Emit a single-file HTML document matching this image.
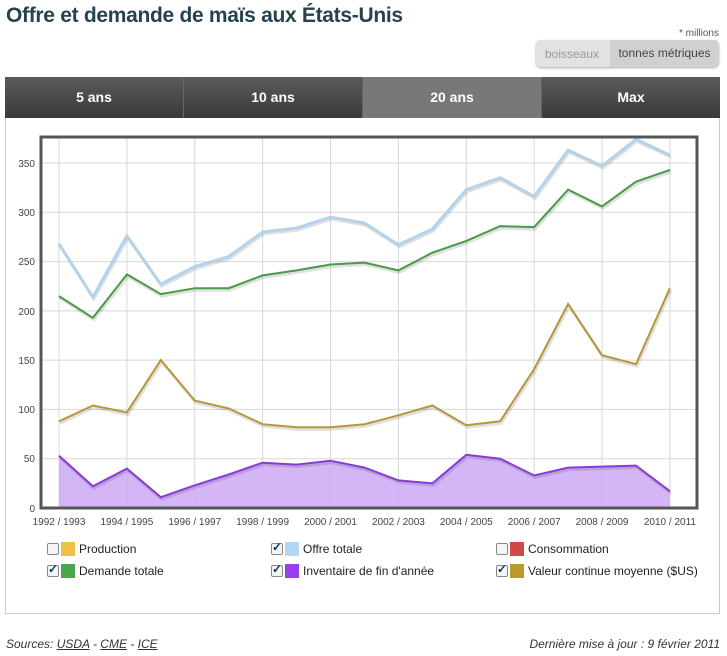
<!DOCTYPE html>
<html><head><meta charset="utf-8"><style>
body{margin:0;width:727px;height:656px;background:#fff;font-family:"Liberation Sans",sans-serif;position:relative;overflow:hidden}
.t{position:absolute;left:6px;top:4px;font-size:21px;font-weight:bold;color:#27424f;letter-spacing:-0.3px}
.mil{position:absolute;right:8px;top:28px;font-size:10px;color:#555}
.tog{position:absolute;left:536px;top:40px;width:183px;height:27px;border-radius:5px;background:#e2e2e2;box-shadow:0 1px 2px #aaa;font-size:12px;color:#999}
.tog span{position:absolute;top:7px}
.tog .on{left:74px;top:0;width:109px;height:27px;background:#d0d0d0;border-radius:0 5px 5px 0;color:#444;line-height:27px;text-align:center}
.tabs{position:absolute;left:5px;top:77px;width:715px;height:41px;display:flex}
.tabs div{flex:1;background:linear-gradient(#5a5a5a,#3a3a3a);color:#fff;font-weight:bold;font-size:14px;text-align:center;line-height:41px;border-right:1px solid #666}
.tabs div.a{background:#787878}
.panel{position:absolute;left:5px;top:118px;width:713px;height:495px;border:1px solid #ccc;border-top:none}
.lg{position:absolute;font-size:12px;color:#222}
.cb{display:inline-block;width:10px;height:10px;border:1px solid #888;border-radius:2px;background:#f5f5f5;vertical-align:-2px;margin-right:2px;position:relative}
.cb.c::after{content:"✓";position:absolute;left:0;top:-4px;font-size:12px;color:#135;font-weight:bold}
.sw{display:inline-block;width:14px;height:14px;vertical-align:-3px;margin-right:4px}
.foot{position:absolute;top:637px;font-size:12px;font-style:italic;color:#333}
</style></head><body>
<div class="t">Offre et demande de maïs aux États-Unis</div>
<div class="mil">* millions</div>
<div class="tog"><span style="left:9px">boisseaux</span><span class="on">tonnes métriques</span></div>
<div class="tabs"><div>5 ans</div><div>10 ans</div><div class="a">20 ans</div><div style="border-right:none">Max</div></div>
<div class="panel"></div>
<svg style="position:absolute;left:0;top:0" width="727" height="540">
<g stroke="#d8d8d8" stroke-width="1">
<line x1="41" x2="697" y1="458.7" y2="458.7"/><line x1="41" x2="697" y1="409.4" y2="409.4"/><line x1="41" x2="697" y1="360.1" y2="360.1"/><line x1="41" x2="697" y1="310.9" y2="310.9"/><line x1="41" x2="697" y1="261.6" y2="261.6"/><line x1="41" x2="697" y1="212.3" y2="212.3"/><line x1="41" x2="697" y1="163" y2="163"/>
<g id="vg"></g>
</g>
<g id="d"></g>
<rect x="41" y="137" width="656" height="371" fill="none" stroke="#555" stroke-width="3"/>
<g font-size="10" fill="#444" text-anchor="end">
<text x="35" y="512">0</text><text x="35" y="462">50</text><text x="35" y="413">100</text><text x="35" y="364">150</text><text x="35" y="315">200</text><text x="35" y="265">250</text><text x="35" y="216">300</text><text x="35" y="167">350</text>
</g>
<g id="xl" font-size="10" fill="#444" text-anchor="middle"></g>
</svg>
<script>
var X=i=>59+i*33.94,Y=v=>508-v*0.9857;
var S={o:[268,214,276,227,245,255,280,284,295,289,267,283,323,335,316,363,347,374,358],
d:[215,193,237,217,223,223,236,241,247,249,241,259,271,286,285,323,306,331,343],
v:[88,104,97,150,109,101,85,82,82,85,94,104,84,88,141,207,155,146,223],
n:[53,22,40,11,23,34,46,44,48,41,28,25,54,50,33,41,42,43,17]};
var pts=a=>a.map((v,i)=>X(i).toFixed(1)+","+Y(v).toFixed(1)).join(" ");
var vg="",xl="";
for(var i=0;i<19;i+=2){vg+='<line x1="'+X(i)+'" x2="'+X(i)+'" y1="137" y2="508"/>';var y=1992+i;xl+='<text x="'+X(i)+'" y="525">'+y+' / '+(y+1)+'</text>';}
document.getElementById("vg").innerHTML=vg;document.getElementById("xl").innerHTML=xl;
var h='<polygon points="'+X(0)+',508 '+pts(S.n)+' '+X(18)+',508" fill="#cfaef5" opacity="0.9"/>';
[["n","#8a3ad8"],["v","#b8963a"],["d","#4a9a48"],["o","#b4d2ea"]].forEach(function(s){
h+='<polyline points="'+pts(S[s[0]])+'" fill="none" stroke="#000" stroke-opacity="0.12" stroke-width="3" transform="translate(1,2)"/>';
h+='<polyline points="'+pts(S[s[0]])+'" fill="none" stroke="'+s[1]+'" stroke-width="'+(s[0]=="o"?3:2)+'"/>';});
document.getElementById("d").innerHTML=h;
</script>
<div class="lg" style="left:47px;top:542px"><span class="cb"></span><span class="sw" style="background:#efc143"></span>Production</div>
<div class="lg" style="left:271px;top:542px"><span class="cb c"></span><span class="sw" style="background:#b4d6f2"></span>Offre totale</div>
<div class="lg" style="left:496px;top:542px"><span class="cb"></span><span class="sw" style="background:#d04848"></span>Consommation</div>
<div class="lg" style="left:47px;top:564px"><span class="cb c"></span><span class="sw" style="background:#4aa84c"></span>Demande totale</div>
<div class="lg" style="left:271px;top:564px"><span class="cb c"></span><span class="sw" style="background:#9a3ff0"></span>Inventaire de fin d'année</div>
<div class="lg" style="left:496px;top:564px"><span class="cb c"></span><span class="sw" style="background:#bb9830"></span>Valeur continue moyenne ($US)</div>
<div class="foot" style="left:6px">Sources: <u>USDA</u> - <u>CME</u> - <u>ICE</u></div>
<div class="foot" style="right:7px">Dernière mise à jour : 9 février 2011</div>
</body></html>
